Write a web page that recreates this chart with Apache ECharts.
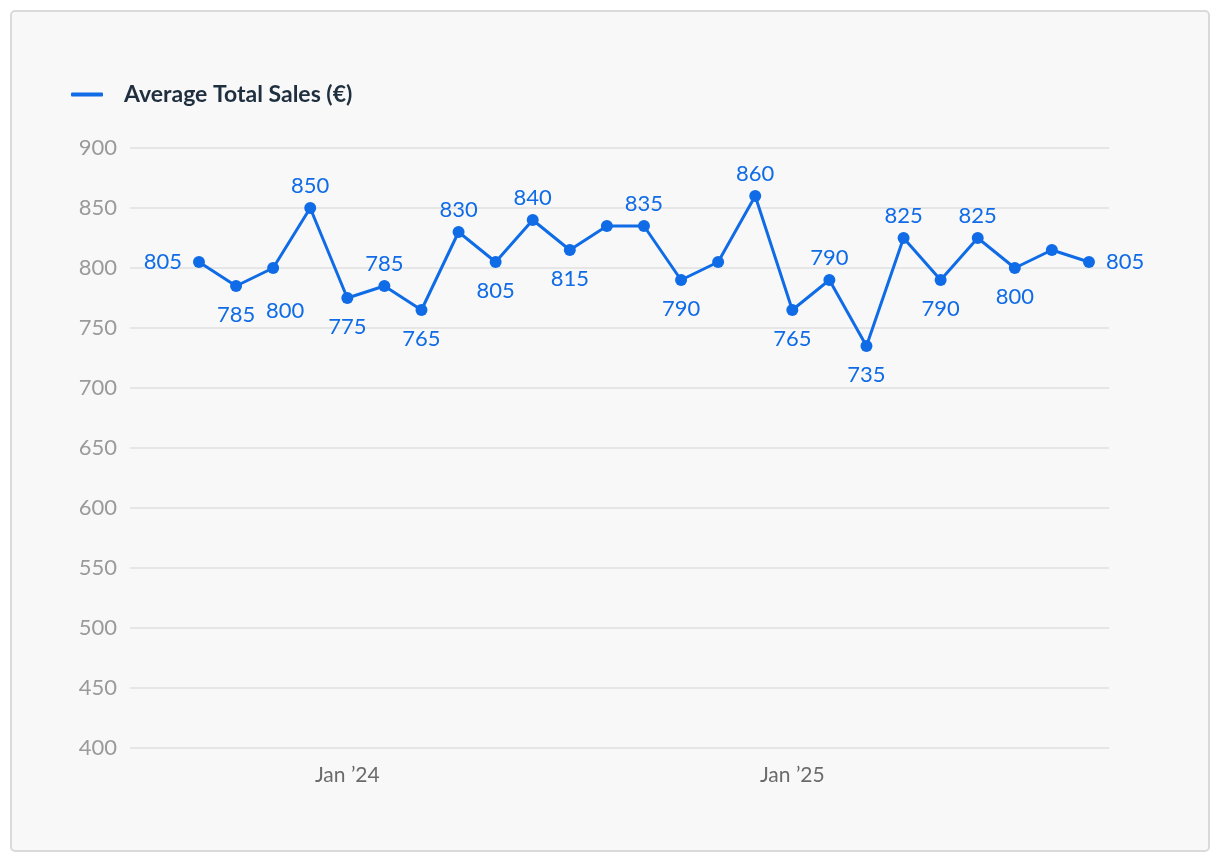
<!DOCTYPE html>
<html>
<head>
<meta charset="utf-8">
<script src="https://cdn.jsdelivr.net/npm/echarts@6/dist/echarts.min.js"></script>
<style>
html,body{margin:0;padding:0;background:#ffffff;}
#frame{position:absolute;left:10px;top:10px;width:1200px;height:842px;border:2px solid #d9dadb;border-radius:5px;background:#f8f8f8;box-sizing:border-box;}
#chart{position:absolute;left:0;top:0;width:1220px;height:862px;}
</style>
</head>
<body>
<div id="frame"></div>
<div id="chart"></div>
<script>
// Months from Sep 2023 to Sep 2025
const months = ["2023-09","2023-10","2023-11","2023-12","2024-01","2024-02","2024-03","2024-04","2024-05","2024-06","2024-07","2024-08","2024-09","2024-10","2024-11","2024-12","2025-01","2025-02","2025-03","2025-04","2025-05","2025-06","2025-07","2025-08","2025-09"];
const sales = [805,785,800,850,775,785,765,830,805,840,815,835,835,790,805,860,765,790,735,825,790,825,800,815,805];
// label placement per point ('none' = hidden)
const labelPos = ["left","bottom","bottom","top","bottom","top","bottom","top","bottom","top","bottom","none","top","bottom","none","top","bottom","top","bottom","top","bottom","top","bottom","none","right"];
const xTickLabels = {4:"Jan \u201924", 16:"Jan \u201925"};
const seriesName = "Average Total Sales (\u20ac)";

const FONT = "Lato, 'Noto Sans', sans-serif";
const data = sales.map((v,i)=>{
  const p = labelPos[i];
  let lab;
  if (p==="none") lab = {show:false};
  else if (p==="left"||p==="right") lab = {show:true, position:p, distance:11};
  else if (p==="top") lab = {show:true, position:p, distance:5};
  else lab = {show:true, position:p, distance:12};
  if (i===2) lab.offset = [12,14];
  return {value:[i,v], label:lab};
});

const chart = echarts.init(document.getElementById('chart'));
chart.setOption({
  backgroundColor:'transparent',
  animation:false,
  legend:{
    left:66, top:78,
    itemWidth:32, itemHeight:4,
    icon:'roundRect',
    itemStyle:{color:'#0f6be6', borderWidth:0},
    textStyle:{fontFamily:FONT, fontSize:23, fontWeight:'bold', color:'#1f2f3f', padding:[0,0,0,16]},
    data:[{name:seriesName, icon:'roundRect'}]
  },
  grid:{left:130, right:111, top:148, bottom:114, containLabel:false},
  xAxis:{
    type:'value',
    min:-1.86, max:24.54,
    axisLine:{show:false}, axisTick:{show:false}, splitLine:{show:false},
    axisLabel:{
      customValues:[4,16],
      formatter:(v)=>xTickLabels[Math.round(v)]||'',
      fontFamily:FONT, fontSize:21, color:'#6b6b6b', margin:17
    }
  },
  yAxis:{
    type:'value', min:400, max:900, interval:50,
    axisLine:{show:false}, axisTick:{show:false},
    splitLine:{lineStyle:{color:'#e0e0e0', width:1.5}},
    axisLabel:{fontFamily:FONT, fontSize:22, color:'#9a9a9a', margin:13}
  },
  series:[{
    name:seriesName,
    type:'line',
    data:data,
    symbol:'circle', symbolSize:12,
    lineStyle:{color:'#0f6be6', width:3},
    itemStyle:{color:'#0f6be6'},
    label:{fontFamily:FONT, fontSize:22, color:'#0f6be6'}
  }]
});
</script>
</body>
</html>
